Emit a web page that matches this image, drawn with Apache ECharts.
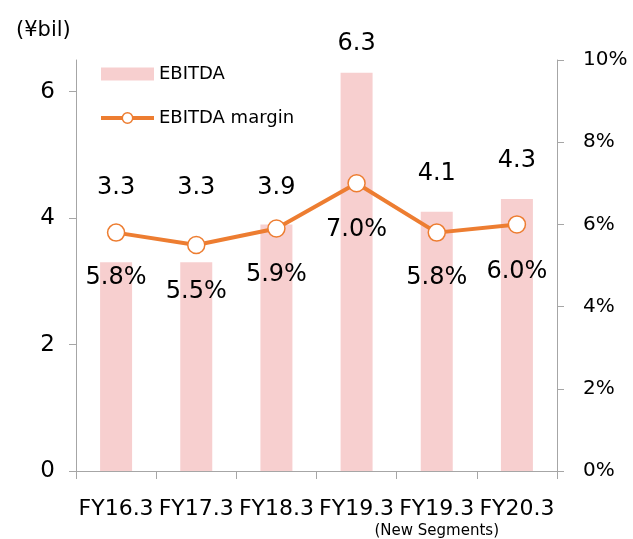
<!DOCTYPE html>
<html><head><meta charset="utf-8">
<script src="https://cdn.jsdelivr.net/npm/echarts@6/dist/echarts.min.js"></script>
<style>html,body{margin:0;padding:0;background:#fff}#c{width:633px;height:539px}</style>
</head><body><div id="c"></div>
<script>
const categories = ['FY16.3','FY17.3','FY18.3','FY19.3','FY19.3\n{s|(New Segments)}','FY20.3'];
const ebitda = [3.3, 3.3, 3.9, 6.3, 4.1, 4.3];
const margin = [5.8, 5.5, 5.9, 7.0, 5.8, 6.0];
const leftTicks = [0, 2, 4, 6];
const rightTicks = [0, 2, 4, 6, 8, 10];
const barLabelOffsets = [-58, -58, -20, -12, -21, -21];
const lineLabelOffsets = [19, 21, 20, 20, 19, 21];

const FONT = 'DejaVu Sans';
const axisColor = '#A6A6A6';
const chart = echarts.init(document.getElementById('c'), null, {renderer:'canvas'});
chart.setOption({
  animation: false,
  textStyle: {fontFamily: FONT, color: '#000'},
  title: {text: '(¥bil)', left: 11, top: 15, textStyle: {fontFamily: FONT, fontSize: 21, fontWeight: 'normal', color: '#000'}},
  legend: {
    orient: 'vertical', left: 94, top: 60, itemWidth: 53, itemHeight: 13, itemGap: 26,
    textStyle: {fontFamily: FONT, fontSize: 18, color: '#000'},
    data: [
      {name: 'EBITDA', icon: 'rect'},
      {name: 'EBITDA margin', lineStyle: {width: 4, color: '#ED7D31'}, itemStyle: {color: '#fff', borderColor: '#ED7D31', borderWidth: 1.5}}
    ]
  },
  grid: {left: 76, right: 76, top: 60, bottom: 64},
  xAxis: {
    type: 'category', data: categories,
    axisLine: {lineStyle: {color: axisColor, width: 1}},
    axisTick: {show: true, alignWithLabel: false, length: 8, lineStyle: {color: axisColor}},
    axisLabel: {interval: 0, margin: 27, fontFamily: FONT, fontSize: 22, color: '#000',
      rich: {s: {fontSize: 15, fontFamily: FONT, color: '#000', padding: [4, 0, 0, 0]}}}
  },
  yAxis: [{
    type: 'value', min: 0, max: 6.5, interval: 2,
    axisLine: {show: true, lineStyle: {color: axisColor}},
    axisTick: {show: true, length: 7, lineStyle: {color: axisColor}, customValues: leftTicks},
    axisLabel: {fontFamily: FONT, fontSize: 23, color: '#000', margin: 21, customValues: leftTicks},
    splitLine: {show: false}
  }, {
    type: 'value', min: 0, max: 10, interval: 2, position: 'right',
    axisLine: {show: true, lineStyle: {color: axisColor}},
    axisTick: {show: true, inside: false, length: 7, lineStyle: {color: axisColor}, customValues: rightTicks},
    axisLabel: {fontFamily: FONT, fontSize: 20, color: '#000', margin: 26, formatter: '{value}%', customValues: rightTicks},
    splitLine: {show: false}
  }],
  series: [{
    name: 'EBITDA', type: 'bar', barWidth: 32, yAxisIndex: 0,
    itemStyle: {color: '#F7CFCF'},
    data: ebitda.map((v, i) => ({value: v, label: {offset: [0, barLabelOffsets[i]]}})),
    label: {show: true, position: 'top', fontFamily: FONT, fontSize: 24, color: '#000', formatter: p => p.value.toFixed(1)}
  }, {
    name: 'EBITDA margin', type: 'line', yAxisIndex: 1,
    symbol: 'circle', symbolSize: 17,
    lineStyle: {color: '#ED7D31', width: 4},
    itemStyle: {color: '#fff', borderColor: '#ED7D31', borderWidth: 1.5},
    data: margin.map((v, i) => ({value: v, label: {offset: [0, lineLabelOffsets[i]]}})),
    label: {show: true, position: 'bottom', fontFamily: FONT, fontSize: 24, color: '#000', formatter: p => p.value.toFixed(1) + '%'},
    z: 5
  }]
});
</script></body></html>
